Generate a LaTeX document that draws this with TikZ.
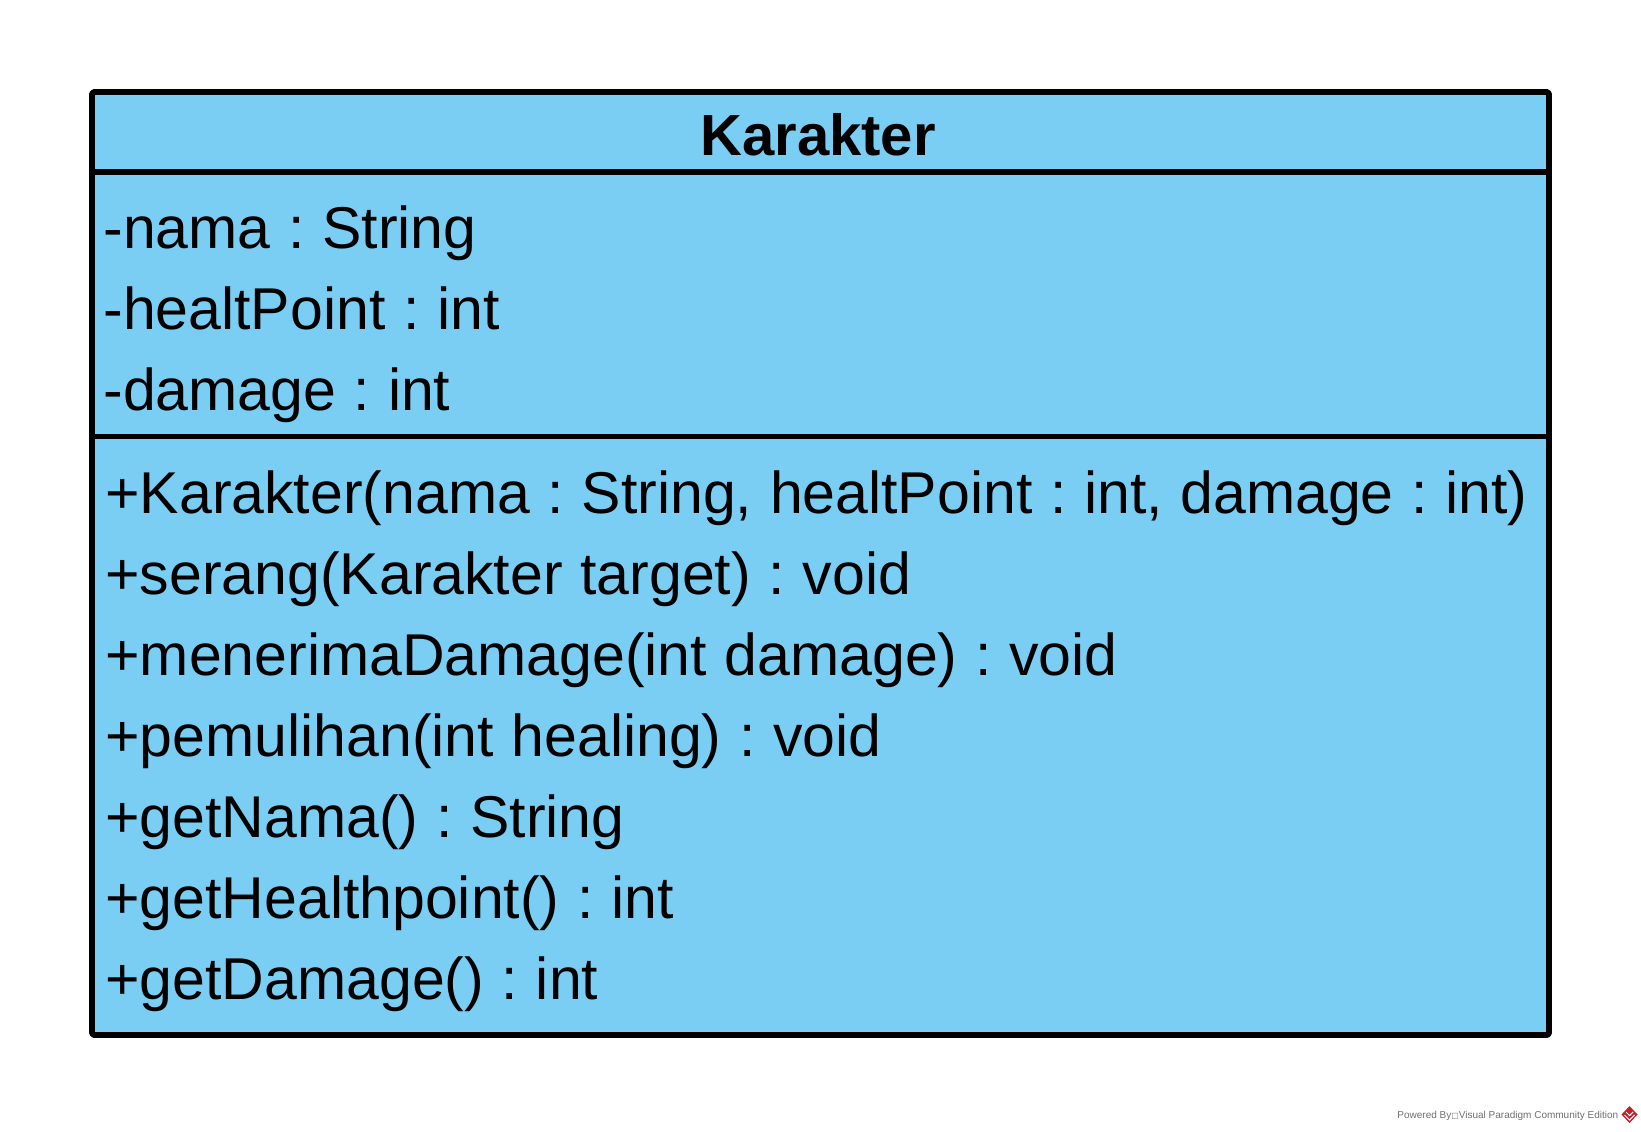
\documentclass[tikz,border=0pt]{standalone}
\usepackage{fontspec}
\setmainfont{Liberation Sans}
\newfontfamily\dejavu{DejaVu Sans}
\definecolor{umlfill}{RGB}{122,206,244}
\definecolor{wmgray}{RGB}{110,110,110}
\definecolor{vpred}{RGB}{200,30,40}
\frenchspacing
\newcommand\mbrfont{\fontsize{29.5}{35}\selectfont\setlength{\spaceskip}{8.85pt plus 0pt minus 0pt}}
\begin{document}
\begin{tikzpicture}[x=0.5pt,y=-0.5pt,
  classbox/.style={draw=black, fill=umlfill, line width=2.8pt, line join=round, rounded corners=0.8pt, inner sep=0pt},
  divider/.style={draw=black, line width=2.8pt},
  member/.style={anchor=base west, inner sep=0pt, font=\mbrfont},
  title/.style={anchor=base, inner sep=0pt, font=\fontsize{29}{35}\selectfont\bfseries},
  watermark/.style={anchor=base west, inner sep=0pt, text=wmgray, font=\fontsize{5}{6}\selectfont}]
\useasboundingbox (0,0) rectangle (1641,1131);
\node[classbox, minimum width=728.5pt, minimum height=471.5pt] (karakter) at (820.5,563.5) {};
\draw[divider] (karakter.west |- 0,172) -- (karakter.east |- 0,172);
\draw[divider] (karakter.west |- 0,436.5) -- (karakter.east |- 0,436.5);
\node[title] (name) at (818,155) {Karakter};
\node[member] (a1) at (103,248) {-nama : String};
\node[member] (a2) at (103,329) {-healtPoint : int};
\node[member] (a3) at (103,410) {-damage : int};
\node[member] (m1) at (105,513) {+Karakter(nama : String, healtPoint : int, damage : int)};
\node[member] (m2) at (105,594) {+serang(Karakter target) : void};
\node[member] (m3) at (105,675) {+menerimaDamage(int damage) : void};
\node[member] (m4) at (105,756) {+pemulihan(int healing) : void};
\node[member] (m5) at (105,837) {+getNama() : String};
\node[member] (m6) at (105,918) {+getHealthpoint() : int};
\node[member] (m7) at (105,999) {+getDamage() : int};
\node[watermark] (wm) at (1397,1118.5) {Powered By{\dejavu\fontsize{4}{5}\selectfont □}Visual Paradigm Community Edition};
\fill[vpred] (1629.5,1106) -- (1637.5,1114.5) -- (1629.5,1123) -- (1621.5,1114.5) -- cycle;
\draw[white, line width=0.5pt] (1624.5,1115) -- (1629.5,1120) -- (1634.5,1115);
\draw[white, line width=0.5pt] (1626,1112) -- (1629.5,1115.5) -- (1633,1112);
\end{tikzpicture}
\end{document}
